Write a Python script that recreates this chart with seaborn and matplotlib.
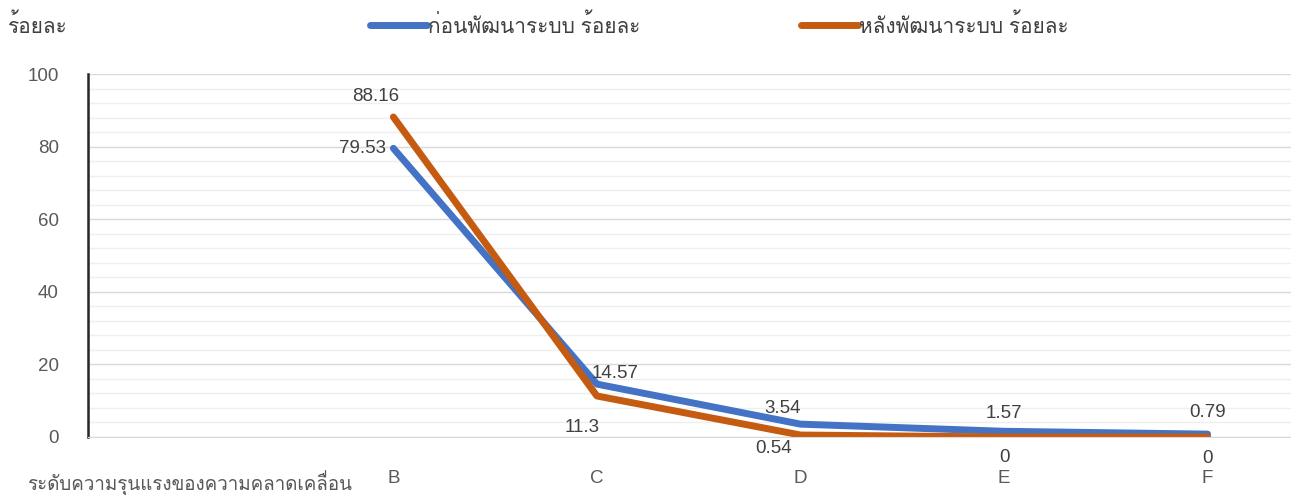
import numpy as np
import pandas as pd
import matplotlib
matplotlib.use('Agg')
import matplotlib.pyplot as plt
from matplotlib import font_manager as fm
from matplotlib.ft2font import FT2Font
from matplotlib.ticker import MultipleLocator
import seaborn as sns

# --- DATA ---
categories = ['ระดับความรุนแรงของความคลาดเคลื่อน', 'B', 'C', 'D', 'E', 'F']
before_pct = [np.nan, 79.53, 14.57, 3.54, 1.57, 0.79]
after_pct = [np.nan, 88.16, 11.3, 0.54, 0, 0]
series_names = ['ก่อนพัฒนาระบบ ร้อยละ', 'หลังพัฒนาระบบ ร้อยละ']
y_title = 'ร้อยละ'

BLUE = '#4472C4'
ORANGE = '#C55A11'
TXT = '#404040'
THAI_SIZE = 15
NUM_SIZE = 13.5


# --- FONT: find something that can draw Thai ---
def find_thai_family():
    for f in fm.fontManager.ttflist:
        try:
            if 0x0E01 in FT2Font(f.fname).get_charmap():
                return f.name
        except Exception:
            pass
    return None


sns.set_style('white')
installed = {f.name for f in fm.fontManager.ttflist}
thai = find_thai_family()
fams = ['Liberation Sans Narrow'] if 'Liberation Sans Narrow' in installed else ['Liberation Sans']
if thai:
    fams.append(thai)
fams.append('DejaVu Sans')
plt.rcParams['font.family'] = fams

# --- LONG FORMAT ---
x_pos = np.arange(len(categories))
df = pd.DataFrame({
    'x': np.concatenate([x_pos, x_pos]),
    'value': before_pct + after_pct,
    'series': [series_names[0]] * len(categories) + [series_names[1]] * len(categories),
})

fig = plt.figure(figsize=(12.91, 4.95), dpi=100)
ax = fig.add_axes([0.0682, 0.1172, 0.946, 0.7333])

sns.lineplot(data=df.dropna(), x='x', y='value', hue='series',
             palette=[BLUE, ORANGE], linewidth=5, ax=ax, legend=False,
             solid_capstyle='round', solid_joinstyle='round')

ax.set_xlim(-0.5, len(categories) - 0.5)
ax.set_ylim(0, 100)
ax.yaxis.set_major_locator(MultipleLocator(20))
ax.yaxis.set_minor_locator(MultipleLocator(4))
ax.grid(which='major', axis='y', color='#D9D9D9', linewidth=1.0)
ax.grid(which='minor', axis='y', color='#EFEFEF', linewidth=1.0)
ax.set_axisbelow(True)

ax.set_xticks(x_pos)
ax.set_xticklabels(categories)
ax.tick_params(axis='x', length=0, pad=24, labelsize=NUM_SIZE, labelcolor='#595959')
ax.get_xticklabels()[0].set_fontsize(13.5)
ax.tick_params(axis='y', which='major', direction='in', length=5, width=1.5,
               color='#262626', pad=21, labelsize=NUM_SIZE, labelcolor='#595959')
ax.tick_params(axis='y', which='minor', length=0)
ax.set_xlabel('')
ax.set_ylabel('')

for s in ['top', 'right']:
    ax.spines[s].set_visible(False)
ax.spines['bottom'].set_color('#D9D9D9')
ax.spines['left'].set_color('#262626')
ax.spines['left'].set_linewidth(1.8)

# --- DATA LABELS (offsets in pixels) ---
blue_off = [None, (-7, 0, 'right'), (18, 11, 'center'), (-18, 16, 'center'),
            (0, 18, 'center'), (0, 22, 'center')]
orange_off = [None, (-18, 20, 'center'), (-15, -32, 'center'), (-27, -13, 'center'),
              (0, -21, 'center'), (0, -22, 'center')]
for vals, offs in [(before_pct, blue_off), (after_pct, orange_off)]:
    for i, v in enumerate(vals):
        if np.isnan(v):
            continue
        dx, dy, ha = offs[i]
        ax.annotate(f'{v:g}', xy=(x_pos[i], v), xytext=(dx, dy), textcoords='offset pixels',
                    ha=ha, va='center', fontsize=NUM_SIZE, color=TXT)

fig.text(8 / 1291, 1 - 25 / 495, y_title, fontsize=THAI_SIZE, color=TXT,
         ha='left', va='center')

handles = [plt.Line2D([], [], color=BLUE, linewidth=5, solid_capstyle='round'),
           plt.Line2D([], [], color=ORANGE, linewidth=5, solid_capstyle='round')]
leg = fig.legend(handles, series_names, loc='center', bbox_to_anchor=(0.557, 1 - 25 / 495),
                 ncol=2, frameon=False, fontsize=THAI_SIZE, handlelength=2.75,
                 handletextpad=0.05, columnspacing=7.7)
for t in leg.get_texts():
    t.set_color(TXT)

fig.savefig('out.png', dpi=100)
